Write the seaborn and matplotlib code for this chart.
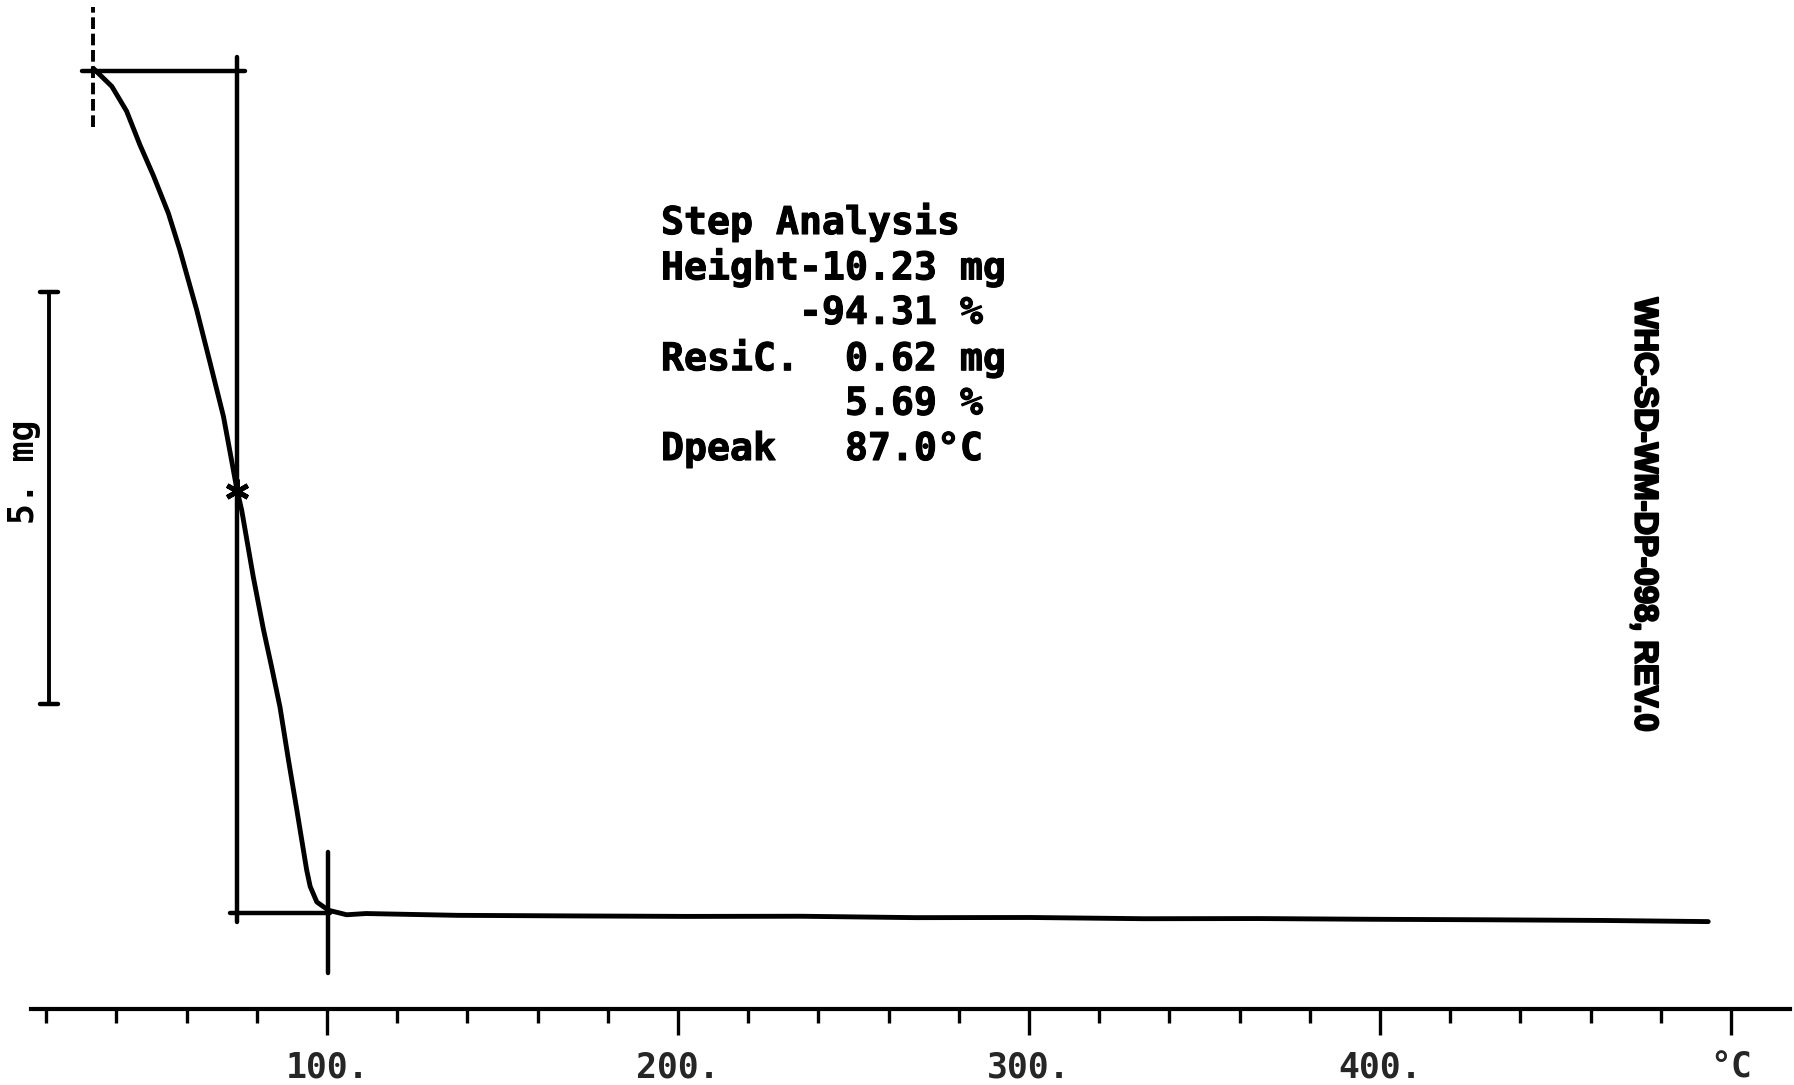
import numpy as np
import pandas as pd
import matplotlib
matplotlib.use("Agg")
import matplotlib.pyplot as plt
import matplotlib.patheffects as pe
import seaborn as sns

# ---------------- data ----------------
temp_c = [33.4, 38.7, 42.9, 46.7, 50.5, 54.8, 58.1, 62.9, 66.7, 70.5, 72.8, 74.3,
          75.7, 79.0, 81.9, 84.2, 86.6, 89.0, 91.4, 94.2, 95.2, 97.1, 100.4, 105.6,
          111.1, 137.2, 169.8, 202.4, 235.0, 267.6, 300.2, 332.8, 365.4, 398.0,
          430.6, 463.2, 493.5]
mass_mg = [10.88, 10.66, 10.36, 9.95, 9.58, 9.12, 8.67, 7.94, 7.30, 6.65, 6.12, 5.77,
           5.51, 4.70, 4.06, 3.61, 3.12, 2.48, 1.87, 1.14, 0.94, 0.75, 0.65, 0.595,
           0.61, 0.588, 0.581, 0.575, 0.577, 0.560, 0.562, 0.547, 0.549, 0.540,
           0.534, 0.526, 0.512]

step_start_t = 33.4
step_mid_t = 74.3
step_end_t = 100.4
mass_top = 10.85
mass_resid = 0.62
mass_mid = 5.74
scale_bar_mg = 5.0
scale_bar_low = 3.16
scale_bar_t = 20.8

major_ticks = [100, 200, 300, 400, 500]
major_labels = ["100.", "200.", "300.", "400.", "°C"]
minor_ticks = [t for t in range(20, 500, 20) if t % 100 != 0]

text_lines = ["Step Analysis",
              "Height-10.23 mg",
              "      -94.31 %",
              "ResiC.  0.62 mg",
              "        5.69 %",
              "Dpeak   87.0°C"]
doc_id = "WHC-SD-WM-DP-098, REV.0"
scale_label = "5. mg"

# ---------------- figure ----------------
sns.set_theme(style="white")
plt.rcParams['font.family'] = ['DejaVu Sans Mono', 'DejaVu Sans']

W, H = 1794, 1085
fig = plt.figure(figsize=(W / 100, H / 100), dpi=100)
fig.patch.set_facecolor("white")
ax = fig.add_axes([31 / W, 76 / H, (1790 - 31) / W, (H - 76) / H])
ax.set_facecolor("white")

df = pd.DataFrame({"T": temp_c, "m": mass_mg})
sns.lineplot(data=df, x="T", y="m", ax=ax, color="black", lw=3.5,
             estimator=None, sort=False)

lw_ref = 3.2
# step analysis construction lines
ax.plot([step_start_t, step_start_t], [10.17, 11.63], color="black", lw=2.8,
        linestyle=(0, (3, 1.2)))
ax.plot([30.1, 76.6], [mass_top, mass_top], color="black", lw=lw_ref)
ax.plot([step_mid_t, step_mid_t], [0.51, 11.02], color="black", lw=lw_ref)
ax.plot([72.4, 100.9], [mass_resid, mass_resid], color="black", lw=lw_ref)
ax.plot([step_end_t, step_end_t], [-0.11, 1.36], color="black", lw=lw_ref)
ax.plot([step_mid_t], [mass_mid], marker=(6, 2, 0), markersize=17,
        markeredgewidth=3.5, color="black")

# scale bar
ax.plot([scale_bar_t, scale_bar_t], [scale_bar_low, scale_bar_low + scale_bar_mg],
        color="black", lw=2.8)
for yv in (scale_bar_low, scale_bar_low + scale_bar_mg):
    ax.plot([scale_bar_t - 2.7, scale_bar_t + 2.7], [yv, yv], color="black", lw=3.2)

ax.set_xlim(15.67, 516.8)
ax.set_ylim(-0.55, 11.71)
ax.set_xlabel("")
ax.set_ylabel("")

for s in ("left", "right", "top"):
    ax.spines[s].set_visible(False)
ax.spines["bottom"].set_linewidth(3.0)
ax.spines["bottom"].set_color("black")

ax.set_yticks([])
ax.set_xticks(major_ticks)
ax.set_xticklabels(major_labels, fontsize=25, fontweight="bold",
                   family=['DejaVu Sans Mono', 'DejaVu Sans'])
ax.set_xticks(minor_ticks, minor=True)
ax.tick_params(axis="x", which="major", direction="out", length=19, width=2.4,
               color="black", pad=11, bottom=True)
ax.tick_params(axis="x", which="minor", direction="out", length=10, width=2.4,
               color="black", bottom=True)

# annotation block
y0 = 223
for i, line in enumerate(text_lines):
    fig.text(661 / W, 1 - (y0 + i * 45.4) / H, line, fontsize=27.5,
             fontweight="bold", family=['DejaVu Sans Mono', 'DejaVu Sans'],
             ha="left", va="center", color="black",
             path_effects=[pe.withStroke(linewidth=0.8, foreground="black")])

fig.text(1644 / W, 1 - 514 / H, doc_id, rotation=-90, ha="center", va="center",
         fontsize=23.5, fontweight="bold",
         family=['Liberation Sans Narrow', 'Liberation Sans', 'DejaVu Sans'],
         color="black",
         path_effects=[pe.withStroke(linewidth=1.6, foreground="black")])

fig.text(24 / W, 1 - 472 / H, scale_label, rotation=90, ha="center", va="center",
         fontsize=25, fontweight="bold",
         family=['DejaVu Sans Mono', 'DejaVu Sans'], color="black")

fig.savefig("out.png", dpi=100, facecolor="white")
